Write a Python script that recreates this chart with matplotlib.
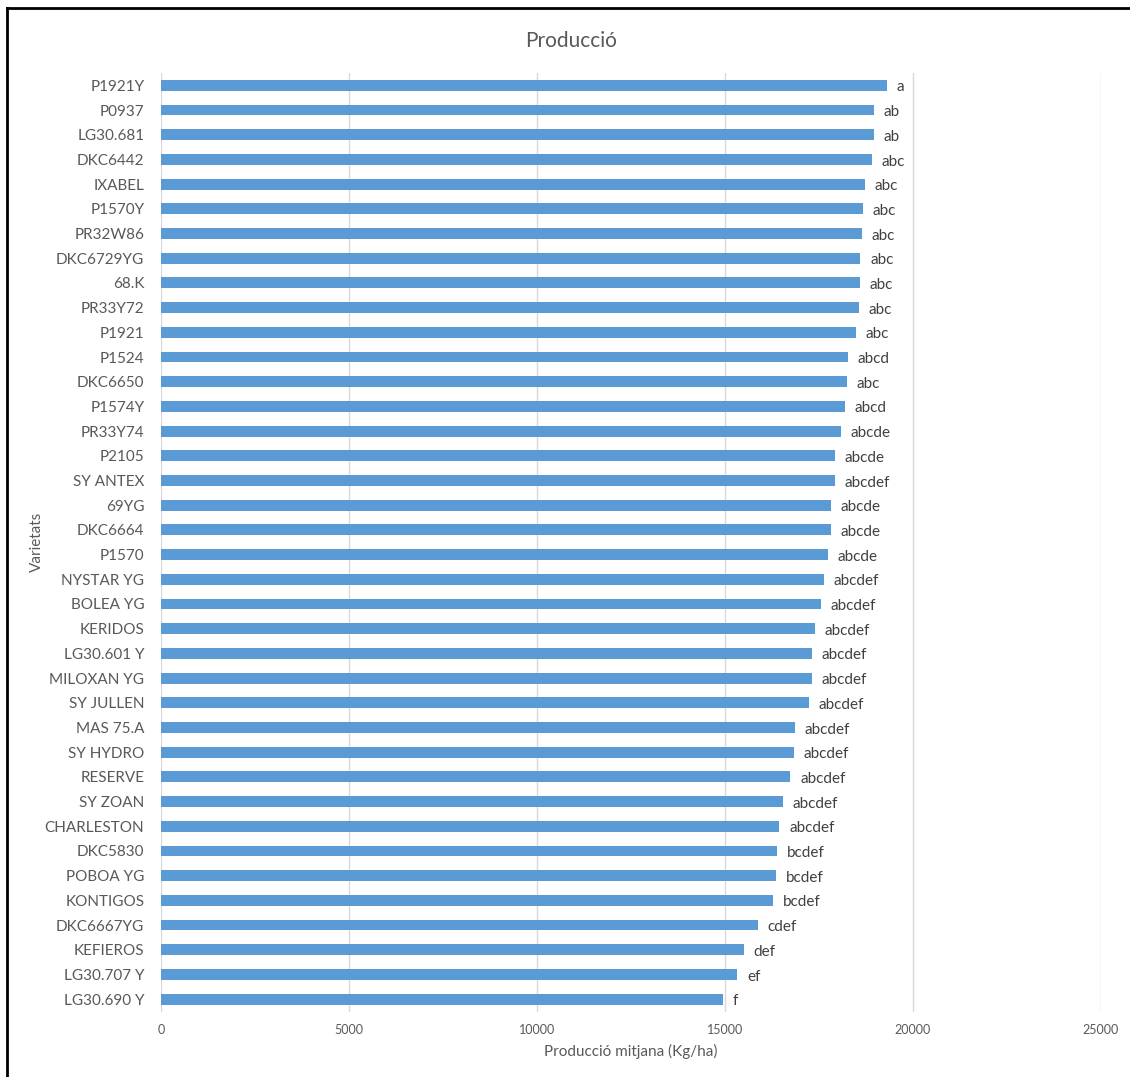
import matplotlib.pyplot as plt
from matplotlib.lines import Line2D

varieties = ["P1921Y", "P0937", "LG30.681", "DKC6442", "IXABEL", "P1570Y", "PR32W86",
             "DKC6729YG", "68.K", "PR33Y72", "P1921", "P1524", "DKC6650", "P1574Y",
             "PR33Y74", "P2105", "SY ANTEX", "69YG", "DKC6664", "P1570", "NYSTAR YG",
             "BOLEA YG", "KERIDOS", "LG30.601 Y", "MILOXAN YG", "SY JULLEN", "MAS 75.A",
             "SY HYDRO", "RESERVE", "SY ZOAN", "CHARLESTON", "DKC5830", "POBOA YG",
             "KONTIGOS", "DKC6667YG", "KEFIEROS", "LG30.707 Y", "LG30.690 Y"]
production = [19310, 18963, 18963, 18900, 18723, 18660, 18643, 18598, 18580, 18563,
              18484, 18270, 18252, 18190, 18092, 17932, 17914, 17817, 17817, 17737,
              17639, 17541, 17399, 17301, 17301, 17240, 16867, 16822, 16742, 16547,
              16449, 16395, 16352, 16280, 15881, 15500, 15329, 14948]
groups = ["a", "ab", "ab", "abc", "abc", "abc", "abc", "abc", "abc", "abc", "abc",
          "abcd", "abc", "abcd", "abcde", "abcde", "abcdef", "abcde", "abcde", "abcde",
          "abcdef", "abcdef", "abcdef", "abcdef", "abcdef", "abcdef", "abcdef", "abcdef",
          "abcdef", "abcdef", "abcdef", "bcdef", "bcdef", "bcdef", "cdef", "def", "ef", "f"]
x_ticks = [0, 5000, 10000, 15000, 20000, 25000]

plt.rcParams["font.family"] = ["Lato", "DejaVu Sans"]

W, H = 1130, 1077
fig = plt.figure(figsize=(W / 100, H / 100), dpi=100)
ax = fig.add_axes([161 / W, 1 - 1011.5 / H, 940 / W, (1011.5 - 73) / H])

n = len(varieties)
ypos = list(range(n))
ax.barh(ypos, production, height=0.44, color="#5B9BD5", zorder=3)
for y, v, g in zip(ypos, production, groups):
    ax.annotate(g, (v, y), xytext=(7, -1.5), textcoords="offset points",
                va="center", ha="left", fontsize=11, color="#404040")

ax.set_ylim(n - 0.5, -0.5)
ax.set_xlim(0, 25000)
ax.set_yticks(ypos)
ax.set_yticklabels(varieties, fontsize=11, color="#595959")
ax.set_xticks(x_ticks)
ax.set_xticklabels([str(t) for t in x_ticks], fontsize=9, color="#595959")
ax.tick_params(length=0)
ax.tick_params(axis="y", pad=12)
ax.tick_params(axis="x", pad=9)
ax.grid(axis="x", color="#D9D9D9", linewidth=1, zorder=0)
for s in ax.spines.values():
    s.set_visible(False)

ax.set_xlabel("Producció mitjana (Kg/ha)", fontsize=11, color="#595959", labelpad=6)
fig.text(37 / W, 1 - 542 / H, "Varietats", rotation=90, fontsize=11,
         color="#595959", ha="center", va="center")
fig.text(571 / W, 1 - 41 / H, "Producció", fontsize=15, color="#595959",
         ha="center", va="center")

# outer frame
fig.add_artist(Line2D([7 / W, 7 / W], [0, 1 - 8 / H], color="black", lw=2,
                      transform=fig.transFigure))
fig.add_artist(Line2D([7 / W, 1], [1 - 8 / H, 1 - 8 / H], color="black", lw=2,
                      transform=fig.transFigure))

fig.savefig("out.png", dpi=100)
